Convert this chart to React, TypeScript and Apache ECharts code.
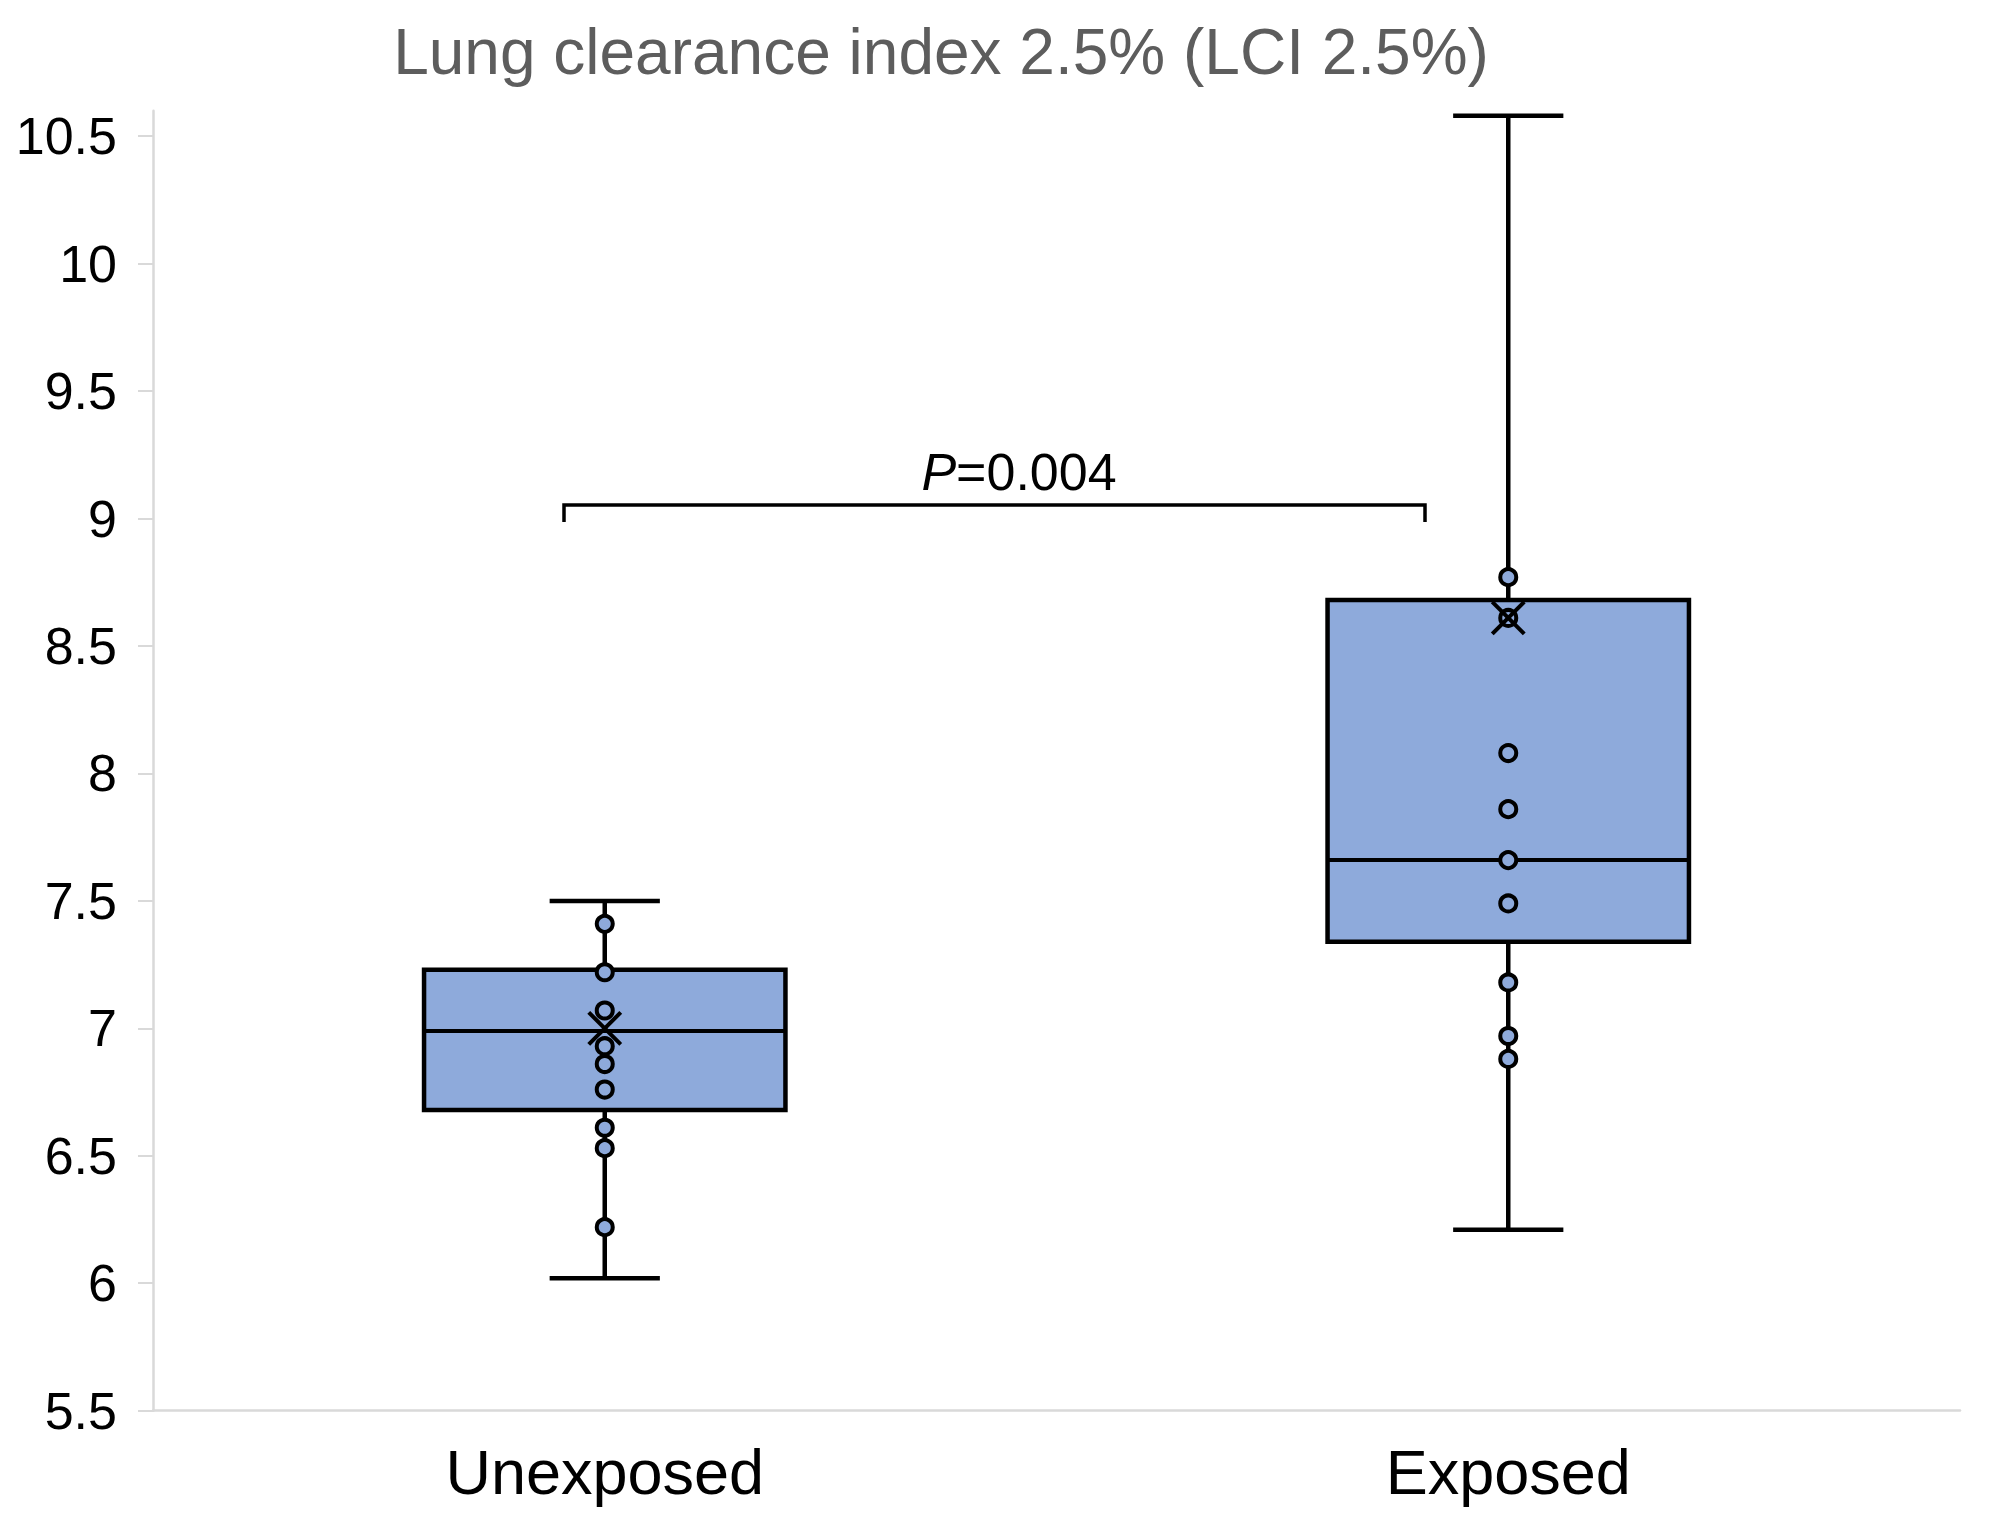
import React, { useEffect, useRef } from "react";
import * as echarts from "echarts";

const categories = ["Unexposed", "Exposed"];
const whiskerLow = [6.02, 6.21];
const q1 = [6.68, 7.34];
const median = [6.99, 7.66];
const q3 = [7.23, 8.68];
const whiskerHigh = [7.5, 10.58];
const means = [7.0, 8.61];
const unexposedPoints = [7.41, 7.22, 7.07, 6.93, 6.86, 6.76, 6.61, 6.53, 6.22];
const exposedPoints = [8.77, 8.61, 8.08, 7.86, 7.66, 7.49, 7.18, 6.97, 6.88];
const yTicks = [5.5, 6, 6.5, 7, 7.5, 8, 8.5, 9, 9.5, 10, 10.5];
const titleText = "Lung clearance index 2.5% (LCI 2.5%)";
const pLabel = "{i|P}=0.004";

const FONT = "'Liberation Sans', Arial, Helvetica, sans-serif";
const BOX_FILL = "#8eaadb";

export default function App() {
  const ref = useRef<HTMLDivElement>(null);

  useEffect(() => {
    document.body.style.margin = "0";
    const chart = echarts.init(ref.current!, null, { renderer: "svg" });

    const boxData = categories.map((_, i) => [
      i,
      whiskerLow[i],
      q1[i],
      median[i],
      q3[i],
      whiskerHigh[i],
    ]);
    const pointData = [
      ...unexposedPoints.map((v) => [0, v]),
      ...exposedPoints.map((v) => [1, v]),
    ];
    const meanData = means.map((v, i) => [i, v]);

    const option: any = {
      animation: false,
      backgroundColor: "#ffffff",
      textStyle: { fontFamily: FONT },
      grid: { left: 153, right: 35, top: 110.7, bottom: 117.3, containLabel: false },
      xAxis: {
        type: "category",
        data: categories,
        boundaryGap: true,
        axisLine: { show: true, lineStyle: { color: "#d9d9d9", width: 2.5 } },
        axisTick: { show: false },
        axisLabel: {
          fontSize: 63,
          color: "#000000",
          margin: 30,
          fontFamily: FONT,
        },
        splitLine: { show: false },
      },
      yAxis: {
        type: "value",
        min: 5.5,
        max: 10.6,
        interval: 0.5,
        axisLine: { show: true, lineStyle: { color: "#d9d9d9", width: 2.5 } },
        axisTick: {
          show: true,
          inside: false,
          length: 15,
          lineStyle: { color: "#d9d9d9", width: 2 },
          customValues: yTicks,
        },
        axisLabel: {
          fontSize: 52,
          color: "#000000",
          margin: 36,
          fontFamily: FONT,
          customValues: yTicks,
        },
        splitLine: { show: false },
      },
      series: [
        {
          type: "custom",
          name: "box",
          data: boxData,
          encode: { x: 0, y: [1, 2, 3, 4, 5] },
          z: 2,
          renderItem: (params: any, api: any) => {
            const idx = api.value(0);
            const lo = api.coord([idx, api.value(1)]);
            const b1 = api.coord([idx, api.value(2)]);
            const med = api.coord([idx, api.value(3)]);
            const b3 = api.coord([idx, api.value(4)]);
            const hi = api.coord([idx, api.value(5)]);
            const band = api.size([1, 0])[0];
            const bw = band * 0.4;
            const cw = band * 0.122;
            const x = lo[0];
            const ls = { stroke: "#000000", lineWidth: 4.5 };
            return {
              type: "group",
              children: [
                { type: "line", shape: { x1: x, y1: b3[1], x2: x, y2: hi[1] }, style: ls },
                { type: "line", shape: { x1: x, y1: b1[1], x2: x, y2: lo[1] }, style: ls },
                { type: "line", shape: { x1: x - cw / 2, y1: hi[1], x2: x + cw / 2, y2: hi[1] }, style: ls },
                { type: "line", shape: { x1: x - cw / 2, y1: lo[1], x2: x + cw / 2, y2: lo[1] }, style: ls },
                {
                  type: "rect",
                  shape: { x: x - bw / 2, y: b3[1], width: bw, height: b1[1] - b3[1] },
                  style: { fill: BOX_FILL, stroke: "#000000", lineWidth: 4.5 },
                },
                {
                  type: "line",
                  shape: { x1: x - bw / 2, y1: med[1], x2: x + bw / 2, y2: med[1] },
                  style: { stroke: "#000000", lineWidth: 4 },
                },
              ],
            };
          },
        },
        {
          type: "scatter",
          name: "points",
          data: pointData,
          z: 3,
          symbol: "circle",
          symbolSize: 16,
          itemStyle: { color: BOX_FILL, borderColor: "#000000", borderWidth: 4, opacity: 1 },
        },
        {
          type: "custom",
          name: "mean",
          data: meanData,
          encode: { x: 0, y: 1 },
          z: 4,
          renderItem: (params: any, api: any) => {
            const p = api.coord([api.value(0), api.value(1)]);
            const h = 16;
            const ls = { stroke: "#000000", lineWidth: 4 };
            return {
              type: "group",
              children: [
                { type: "line", shape: { x1: p[0] - h, y1: p[1] - h, x2: p[0] + h, y2: p[1] + h }, style: ls },
                { type: "line", shape: { x1: p[0] - h, y1: p[1] + h, x2: p[0] + h, y2: p[1] - h }, style: ls },
              ],
            };
          },
        },
      ],
      graphic: [
        {
          type: "text",
          x: 941,
          y: 52,
          style: {
            text: titleText,
            fontSize: 64,
            fontFamily: FONT,
            fill: "#5d5d5d",
            align: "center",
            verticalAlign: "middle",
          },
        },
        {
          type: "text",
          x: 1019,
          y: 472,
          style: {
            text: pLabel,
            fontSize: 52,
            fontFamily: FONT,
            fill: "#000000",
            align: "center",
            verticalAlign: "middle",
            rich: {
              i: { fontStyle: "italic", fontSize: 52, fontFamily: FONT, fill: "#000000" },
            },
          },
        },
        {
          type: "polyline",
          shape: {
            points: [
              [564, 522],
              [564, 505],
              [1425, 505],
              [1425, 522],
            ],
          },
          style: { stroke: "#000000", lineWidth: 3.5, fill: "none" },
        },
      ],
    };

    chart.setOption(option);
    return () => chart.dispose();
  }, []);

  return (
    <div
      ref={ref}
      style={{ position: "absolute", left: 0, top: 0, width: 1995, height: 1528 }}
    />
  );
}
